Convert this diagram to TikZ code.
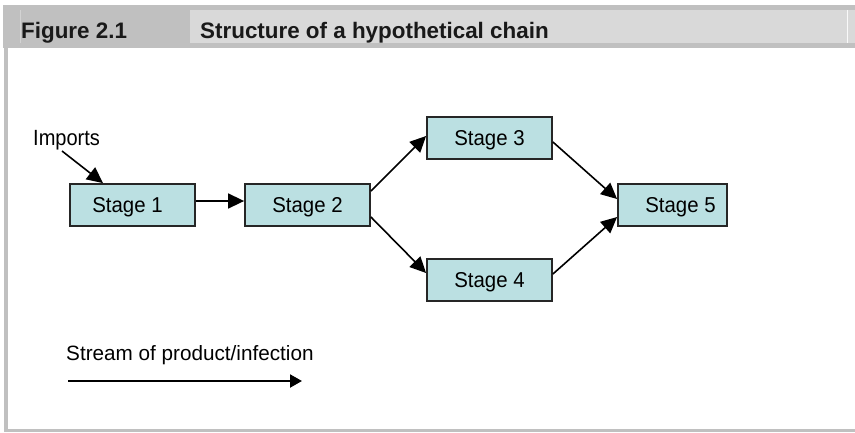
\documentclass[tikz,border=0pt]{standalone}
\usepackage{fontspec}
\setmainfont{Liberation Sans}
\newfontfamily\stagefont[FakeStretch=0.95]{Liberation Sans}
\newfontfamily\importfont[FakeStretch=0.91]{Liberation Sans}
\usetikzlibrary{arrows.meta,calc}
\definecolor{hdrdark}{HTML}{C0C0C0}
\definecolor{hdrlight}{HTML}{D9D9D9}
\definecolor{stagefill}{HTML}{BBE0E2}
\tikzset{
  stagebox/.style={draw=black!85, line width=1.8pt, fill=stagefill,
    minimum width=125pt, minimum height=42pt, inner sep=0pt,
    font=\stagefont\fontsize{21.5}{21.5}\selectfont, text height=15.5pt, text depth=0pt},
  flow/.style={line width=1.6pt, -{Triangle[length=16pt,width=15pt]}},
  legendflow/.style={line width=2pt, -{Triangle[length=12pt,width=13pt]}},
  hdrtext/.style={anchor=base west, inner sep=0pt,
    font=\bfseries\fontsize{22.4}{22.4}\selectfont, text=black!90}
}
\begin{document}
\begin{tikzpicture}[x=1pt,y=-1pt]
\useasboundingbox (0,0) rectangle (855,432);
% frame and title bar
\fill[white] (0,0) rectangle (855,432);
\fill[hdrdark] (3,5) rectangle (855,48);
\fill[hdrlight] (190,10) rectangle (855,43);
\draw[hdrdark!70!white, line width=0.8pt] (20,10) -- (20,43);
\draw[white!85!hdrlight, line width=1pt] (847.5,10) -- (847.5,43);
\fill[hdrdark] (4,48) rectangle (8,432);
\fill[hdrdark] (4,429) rectangle (855,432);
\node[hdrtext] (fig) at (21,38) {Figure 2.1};
\node[hdrtext] (title) at (200,38) {Structure of a hypothetical chain};

% stages of the chain
\node[stagebox] (s1) at (132.5,205) {\hspace*{-10pt}Stage 1};
\node[stagebox] (s2) at (307.5,205) {Stage 2};
\node[stagebox] (s3) at (489.5,138) {Stage 3};
\node[stagebox] (s4) at (489.5,280) {Stage 4};
\node[stagebox, minimum width=109pt] (s5) at (672.5,205) {\hspace*{16pt}Stage 5};

% incoming imports
\node[anchor=base west, inner sep=0pt, font=\importfont\fontsize{22}{22}\selectfont] (imp) at (33,145) {Imports};
\coordinate (impstart) at (62,151);
\draw[flow] (impstart) -- ([xshift=-29.5pt]s1.north);

% flow between stages
\draw[flow] ([yshift=4pt]s1.east) -- ([yshift=4pt]s2.west);
\draw[flow] ([yshift=14pt]s2.east) -- ([yshift=2pt]s3.west);
\draw[flow] ([yshift=-12pt]s2.east) -- ([yshift=7pt]s4.west);
\draw[flow] ([yshift=-4pt]s3.east) -- ([yshift=6pt]s5.west);
\draw[flow] ([yshift=6pt]s4.east) -- ([yshift=-12pt]s5.west);

% legend
\node[anchor=base west, inner sep=0pt, font=\fontsize{20.7}{20.7}\selectfont] (leg) at (66,360) {Stream of product/infection};
\coordinate (lega) at (68,381);
\coordinate (legb) at (302,381);
\draw[legendflow] (lega) -- (legb);
\end{tikzpicture}
\end{document}
